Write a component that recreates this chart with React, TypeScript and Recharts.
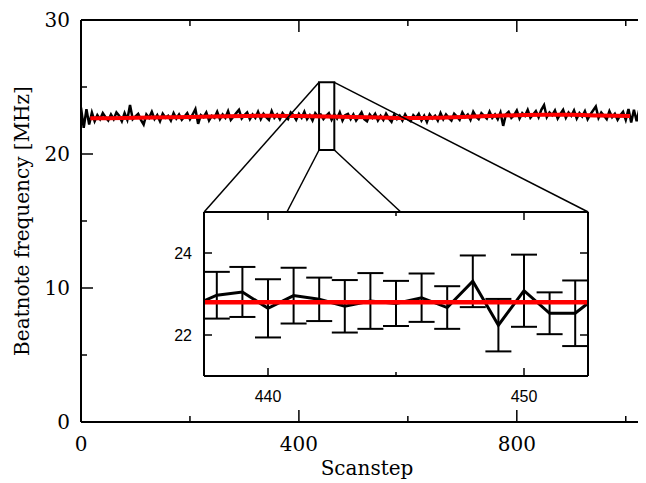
import React from 'react';
import { LineChart, Line, XAxis, YAxis, ErrorBar, ReferenceArea, ReferenceLine, Label } from 'recharts';

// main scan: one reading every 5 scansteps, starting at 0
const traceStep = 5;
const traceValues = [
  23.45, 21.95, 23.35, 22.2, 23.1, 22.45, 22.9, 22.6, 23.05, 22.75,
  22.5, 22.95, 22.6, 23.1, 22.85, 22.45, 23.05, 22.55, 23.65, 22.6,
  22.8, 23.0, 22.55, 22.2, 22.95, 22.7, 23.15, 22.6, 22.9, 22.45,
  23.0, 22.7, 22.85, 22.5, 23.05, 22.65, 22.95, 22.55, 22.8, 23.05,
  22.6, 22.95, 23.35, 22.25, 22.9, 22.75, 23.1, 22.5, 22.85, 22.7,
  23.15, 22.6, 22.95, 22.7, 23.2, 22.55, 22.8, 23.05, 23.3, 22.65,
  22.9, 23.1, 22.6, 22.95, 22.7, 23.15, 22.6, 23.0, 22.75, 22.55,
  23.2, 22.7, 22.95, 22.6, 23.05, 22.8, 22.6, 23.1, 22.9, 22.55,
  23.0, 22.7, 23.15, 22.6, 22.9, 22.5, 23.05, 22.8, 22.95, 22.6,
  22.85, 23.05, 22.55, 22.95, 22.65, 23.1, 22.5, 22.9, 23.0, 22.6,
  22.95, 22.5, 22.8, 23.1, 22.6, 22.45, 22.95, 22.7, 23.0, 22.5,
  22.85, 22.55, 23.0, 22.65, 22.4, 22.95, 22.6, 22.85, 22.5, 22.95,
  22.6, 22.45, 22.9, 22.7, 23.0, 22.5, 22.85, 22.4, 22.95, 22.65,
  22.85, 22.5, 23.05, 22.6, 22.95, 22.7, 22.5, 23.0, 22.8, 22.55,
  23.1, 22.75, 22.95, 22.55, 23.15, 22.8, 22.6, 23.05, 22.85, 22.65,
  23.15, 22.7, 22.95, 22.6, 23.1, 22.1, 22.95, 23.15, 22.7, 22.9,
  23.25, 22.65, 23.05, 22.85, 23.3, 22.7, 22.95, 23.2, 22.75, 23.3,
  23.65, 22.75, 23.1, 22.9, 23.25, 22.65, 23.0, 23.3, 22.7, 23.1,
  22.85, 23.25, 22.65, 23.05, 22.8, 23.2, 22.6, 22.95, 23.25, 23.55,
  22.7, 23.1, 22.85, 22.6, 23.2, 22.75, 23.0, 22.55, 22.9, 23.15,
  22.55, 23.35, 22.35, 23.3, 22.45, 23.35, 22.4, 23.3, 22.45, 23.2,
];

// smooth fit (red)
const fitSteps = [17, 100, 200, 300, 350, 400, 450, 500, 550, 600, 650, 700, 750, 800, 850, 900, 950, 1008];
const fitValues = [22.66, 22.7, 22.76, 22.84, 22.86, 22.84, 22.8, 22.76, 22.72, 22.68, 22.7, 22.76, 22.84, 22.9, 22.93, 22.92, 22.88, 22.84];

// zoomed region
const zoomSteps = [437, 438, 439, 440, 441, 442, 443, 444, 445, 446, 447, 448, 449, 450, 451, 452, 453];
const zoomValues = [22.7, 22.97, 23.05, 22.65, 22.96, 22.87, 22.7, 22.83, 22.77, 22.91, 22.67, 23.31, 22.24, 23.08, 22.53, 22.53, 23.02];
const zoomErrors = [null, 0.57, 0.61, 0.71, 0.68, 0.53, 0.64, 0.68, 0.55, 0.59, 0.52, 0.63, 0.64, 0.88, 0.51, 0.8, null];
const zoomFitSteps = [437, 453];
const zoomFitValues = [22.8, 22.8];

const mainXTicks = [0, 200, 400, 600, 800, 1000];
const mainXMajor = [0, 400, 800];
const mainYTicks = [0, 5, 10, 15, 20, 25, 30];
const mainYMajor = [0, 10, 20, 30];
const insetXTicks = [440, 445, 450];
const insetXMajor = [440, 450];
const insetYTicks = [22, 24];

// marked box in main plot and lines out to the inset (data units)
const zoomBox = { x1: 437, x2: 465, y1: 20.3, y2: 25.35 };
const connectors = [
  [{ x: 437, y: 25.35 }, { x: 226, y: 15.67 }],
  [{ x: 465, y: 25.35 }, { x: 931, y: 15.67 }],
  [{ x: 437, y: 20.3 }, { x: 378, y: 15.67 }],
  [{ x: 465, y: 20.3 }, { x: 587, y: 15.67 }],
];

const traceData = traceValues.map((v, i) => ({ x: i * traceStep, y: v }));
const fitData = fitSteps.map((s, i) => ({ x: s, y: fitValues[i] }));
const zoomData = zoomSteps.map((s, i) => ({ x: s, y: zoomValues[i], err: zoomErrors[i] }));
const zoomFitData = zoomFitSteps.map((s, i) => ({ x: s, y: zoomFitValues[i] }));

const SERIF = '"DejaVu Serif", serif';
const SANS = '"Liberation Sans", Arial, sans-serif';

type Side = 'bottom' | 'top' | 'left' | 'right';

// inward ticks (gnuplot style), label only on the bottom/left axes
const makeTick = (side: Side, majors: number[], showLabel: boolean, majorLen: number, minorLen: number,
  font: string, size: number, gap: number, sw: number) => (props: any) => {
  const { x, y, payload } = props;
  const v = payload.value;
  const isMajor = majors.includes(v);
  const len = isMajor ? majorLen : minorLen;
  let line = null;
  if (side === 'bottom') line = <line x1={x} y1={y} x2={x} y2={y - len} />;
  if (side === 'top') line = <line x1={x} y1={y} x2={x} y2={y + len} />;
  if (side === 'left') line = <line x1={x} y1={y} x2={x + len} y2={y} />;
  if (side === 'right') line = <line x1={x} y1={y} x2={x - len} y2={y} />;
  let text = null;
  if (showLabel && isMajor) {
    const st = { fill: '#000' };
    if (side === 'bottom') {
      text = <text x={x} y={y + gap} textAnchor="middle" fontFamily={font} fontSize={size} style={st}>{v}</text>;
    } else {
      text = <text x={x - gap} y={y + size * 0.36} textAnchor="end" fontFamily={font} fontSize={size} style={st}>{v}</text>;
    }
  }
  return (
    <g>
      <g stroke="#000" strokeWidth={sw}>{line}</g>
      {text}
    </g>
  );
};

const frame = { stroke: '#000', strokeWidth: 2 };

export default function App() {
  return (
    <div style={{ position: 'relative', width: 638, height: 475, overflow: 'hidden', background: '#fff' }}>
      <div style={{ position: 'absolute', left: 0, top: 0 }}>
        <LineChart width={660} height={475} margin={{ top: 11, right: 14, bottom: 0, left: 0 }}>
          <XAxis xAxisId="b" type="number" dataKey="x" domain={[0, 1050]} allowDataOverflow ticks={mainXTicks}
            interval={0} height={61} tickSize={0} tickMargin={0} tickLine={false} axisLine={frame}
            tick={makeTick('bottom', mainXMajor, true, 12, 6, SERIF, 20, 29, 1.5)}>
            <Label content={(p: any) => (
              <text x={p.viewBox.x + p.viewBox.width / 2} y={p.viewBox.y + 53} textAnchor="middle"
                fontFamily={SERIF} fontSize={20} style={{ fill: '#000' }}>Scanstep</text>
            )} />
          </XAxis>
          <XAxis xAxisId="t" orientation="top" type="number" dataKey="x" domain={[0, 1050]} allowDataOverflow
            ticks={mainXTicks} interval={0} height={1} tickSize={0} tickMargin={0} tickLine={false} axisLine={frame}
            tick={makeTick('top', mainXMajor, false, 12, 6, SERIF, 20, 0, 1.5)} />
          <YAxis yAxisId="l" type="number" domain={[0, 30]} allowDataOverflow ticks={mainYTicks} interval={0}
            width={73} tickSize={0} tickMargin={0} tickLine={false} axisLine={frame}
            tick={makeTick('left', mainYMajor, true, 12, 6, SERIF, 20, 11, 1.5)}>
            <Label content={(p: any) => {
              const cy = p.viewBox.y + p.viewBox.height / 2;
              return (
                <text x={21} y={cy} transform={`rotate(-90, 21, ${cy})`} textAnchor="middle"
                  fontFamily={SERIF} fontSize={20} style={{ fill: '#000' }}>Beatnote frequency [MHz]</text>
              );
            }} />
          </YAxis>
          <YAxis yAxisId="r" orientation="right" type="number" domain={[0, 30]} allowDataOverflow ticks={mainYTicks}
            interval={0} width={1} tickSize={0} tickMargin={0} tickLine={false} axisLine={frame}
            tick={makeTick('right', mainYMajor, false, 12, 6, SERIF, 20, 0, 1.5)} />
          <Line xAxisId="b" yAxisId="l" data={traceData} dataKey="y" type="linear" stroke="#000" strokeWidth={2.5}
            dot={false} isAnimationActive={false} />
          <Line xAxisId="b" yAxisId="l" data={fitData} dataKey="y" type="monotone" stroke="#ff0000" strokeWidth={4}
            dot={false} isAnimationActive={false} />
          <ReferenceArea xAxisId="b" yAxisId="l" x1={zoomBox.x1} x2={zoomBox.x2} y1={zoomBox.y1} y2={zoomBox.y2}
            fill="none" fillOpacity={0} stroke="#000" strokeWidth={2} ifOverflow="visible" />
          {connectors.map((seg, i) => (
            <ReferenceLine key={i} xAxisId="b" yAxisId="l" segment={seg} stroke="#000" strokeWidth={1.5}
              ifOverflow="visible" />
          ))}
        </LineChart>
      </div>

      <div style={{ position: 'absolute', left: 146, top: 199 }}>
        <LineChart width={439} height={209} margin={{ top: 4, right: 4, bottom: 0, left: 0 }}>
          <XAxis xAxisId="b" type="number" dataKey="x" domain={[437.5, 452.5]} allowDataOverflow ticks={insetXTicks}
            interval={0} height={40} tickSize={0} tickMargin={0} tickLine={false} axisLine={frame}
            tick={makeTick('bottom', insetXMajor, true, 8, 4, SANS, 16, 26, 1.5)} />
          <XAxis xAxisId="t" orientation="top" type="number" dataKey="x" domain={[437.5, 452.5]} allowDataOverflow
            ticks={insetXTicks} interval={0} height={1} tickSize={0} tickMargin={0} tickLine={false} axisLine={frame}
            tick={makeTick('top', insetXMajor, false, 8, 4, SANS, 16, 0, 1.5)} />
          <YAxis yAxisId="l" type="number" domain={[21, 25]} allowDataOverflow ticks={insetYTicks} interval={0}
            width={50} tickSize={0} tickMargin={0} tickLine={false} axisLine={frame}
            tick={makeTick('left', insetYTicks, true, 8, 4, SANS, 16, 12, 1.5)} />
          <YAxis yAxisId="r" orientation="right" type="number" domain={[21, 25]} allowDataOverflow ticks={insetYTicks}
            interval={0} width={1} tickSize={0} tickMargin={0} tickLine={false} axisLine={frame}
            tick={makeTick('right', insetYTicks, false, 8, 4, SANS, 16, 0, 1.5)} />
          <Line xAxisId="b" yAxisId="l" data={zoomData} dataKey="y" type="linear" stroke="#000" strokeWidth={3}
            dot={false} isAnimationActive={false}>
            <ErrorBar dataKey="err" direction="y" width={13} stroke="#000" strokeWidth={2} isAnimationActive={false} />
          </Line>
          <Line xAxisId="b" yAxisId="l" data={zoomFitData} dataKey="y" type="linear" stroke="#ff0000" strokeWidth={4.5}
            dot={false} isAnimationActive={false} />
        </LineChart>
      </div>
    </div>
  );
}
